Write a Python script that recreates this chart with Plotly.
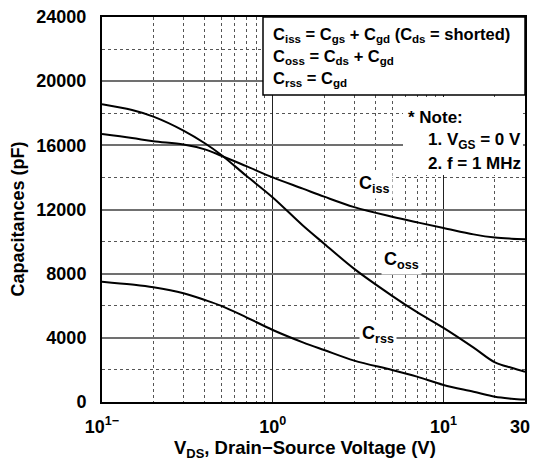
import math
import plotly.graph_objects as go

# ---------------- data ----------------
vds = [0.1, 0.15, 0.2, 0.3, 0.4, 0.5, 0.7, 1, 1.5, 2, 3, 5, 7, 10, 15, 20, 25, 30]
ciss = [16700, 16450, 16250, 16050, 15750, 15350, 14700, 14000, 13300, 12800, 12150, 11550, 11200, 10850, 10450, 10250, 10180, 10150]
coss = [18560, 18200, 17790, 16920, 16130, 15400, 14100, 12750, 11000, 9870, 8300, 6620, 5600, 4620, 3390, 2470, 2130, 1890]
crss = [7500, 7320, 7150, 6780, 6360, 5990, 5280, 4490, 3720, 3240, 2580, 2000, 1580, 1060, 640, 330, 210, 150]

x_tickvals = [0.1, 1, 10, 30]
x_ticktext = ["10<sup>1\u2212</sup>", "10<sup>0</sup>", "10<sup>1</sup>", "30\u00a0\u00a0"]
x_minor = [0.2, 0.3, 0.4, 0.5, 0.6, 0.7, 0.8, 0.9, 2, 3, 4, 5, 6, 7, 8, 9, 20, 30]
y_tickvals = [0, 4000, 8000, 12000, 16000, 20000, 24000]

curve_labels = [("C<sub>iss</sub>", 3.96, 13530), ("C<sub>oss</sub>", 5.7, 8850), ("C<sub>rss</sub>", 4.13, 4180)]

legend_lines = [
    "C<sub>iss</sub> = C<sub>gs</sub> + C<sub>gd</sub> (C<sub>ds</sub> = shorted)",
    "C<sub>oss</sub> = C<sub>ds</sub> + C<sub>gd</sub>",
    "C<sub>rss</sub> = C<sub>gd</sub>",
]
note_lines = ["* Note:", "1. V<sub>GS</sub> = 0 V", "2. f = 1 MHz"]

x_title = "V<sub>DS</sub>, Drain\u2212Source Voltage (V)"
y_title = "Capacitances (pF)"

# ---------------- layout geometry ----------------
# the page body has an 8px margin, so the figure starts at (8, 8)
OFF = 8
W, H = 538 - OFF, 462 - OFF
PLOT_L, PLOT_T, PLOT_R, PLOT_B = 102, 17, 525, 402   # page pixels
L, T = PLOT_L - OFF, PLOT_T - OFF
R = W - (PLOT_R - OFF)
B = H - (PLOT_B - OFF)
PW, PH = PLOT_R - PLOT_L, PLOT_B - PLOT_T
FONT = "Liberation Sans, Arial, Helvetica, sans-serif"


def px(xp):
    return (xp - PLOT_L) / PW


def py(yp):
    return (PLOT_B - yp) / PH


fig = go.Figure()
for name, ys in [("Ciss", ciss), ("Coss", coss), ("Crss", crss)]:
    fig.add_trace(go.Scatter(x=vds, y=ys, mode="lines", name=name,
                             line=dict(color="black", width=2, shape="spline", smoothing=1.0),
                             showlegend=False))

fig.update_layout(
    width=W, height=H,
    margin=dict(l=L, r=R, t=T, b=B, pad=0),
    paper_bgcolor="white", plot_bgcolor="white",
    font=dict(family=FONT, size=18, color="black"),
)

fig.update_xaxes(
    type="log", range=[-1, math.log10(30)], automargin=False,
    tickmode="array", tickvals=x_tickvals,
    ticktext=["<b>%s</b>" % t for t in x_ticktext],
    ticks="", ticklabelstandoff=7, tickfont=dict(size=18),
    ticklabeloverflow="allow",
    showgrid=True, gridcolor="#222", gridwidth=1,
    minor=dict(tickmode="array", tickvals=x_minor, showgrid=True,
               gridcolor="#555", gridwidth=1, griddash="dot", ticks=""),
    showline=True, linecolor="black", linewidth=2, mirror=True,
    zeroline=False,
)
fig.update_yaxes(
    range=[0, 24000], automargin=False,
    tickmode="array", tickvals=y_tickvals,
    ticktext=["<b>%d</b>" % v for v in y_tickvals],
    ticks="", ticklabelstandoff=10, tickfont=dict(size=18),
    ticklabeloverflow="allow",
    showgrid=True, gridcolor="#707070", gridwidth=1.5,
    minor=dict(dtick=2000, showgrid=True, gridcolor="#555", gridwidth=1,
               griddash="dot", ticks=""),
    showline=True, linecolor="black", linewidth=2, mirror=True,
    zeroline=False,
)

# axis titles
fig.add_annotation(text="<b>%s</b>" % x_title, xref="paper", yref="paper",
                   x=px(305), y=py(449), xanchor="center", yanchor="middle",
                   showarrow=False, font=dict(size=18.5))
fig.add_annotation(text="<b>%s</b>" % y_title, xref="paper", yref="paper",
                   x=px(17.5), y=py(219), xanchor="center", yanchor="middle",
                   textangle=-90, showarrow=False, font=dict(size=18))

# formula box
fig.add_shape(type="rect", xref="paper", yref="paper",
              x0=px(263), x1=px(525), y0=py(95), y1=py(17),
              fillcolor="white", line=dict(color="black", width=1.5), layer="above")
for txt, yc in zip(legend_lines, [35, 57, 79]):
    fig.add_annotation(text="<b>%s</b>" % txt, xref="paper", yref="paper",
                       x=px(271), y=py(yc), xanchor="left", yanchor="middle",
                       showarrow=False, font=dict(size=16.5))

# note area (white background, no border)
fig.add_shape(type="rect", xref="paper", yref="paper",
              x0=px(403), x1=px(523), y0=py(175), y1=py(97),
              fillcolor="white", line=dict(width=0), layer="above")
for txt, xl, yc in zip(note_lines, [406, 426, 426], [118, 141, 163]):
    fig.add_annotation(text="<b>%s</b>" % txt, xref="paper", yref="paper",
                       x=px(xl), y=py(yc), xanchor="left", yanchor="middle",
                       showarrow=False, font=dict(size=17))

# curve labels
for txt, xv, yv in curve_labels:
    fig.add_annotation(text="<b>%s</b>" % txt, x=math.log10(xv), y=yv,
                       showarrow=False, bgcolor="white", borderpad=2,
                       font=dict(size=18))

fig.write_html("out.html")
